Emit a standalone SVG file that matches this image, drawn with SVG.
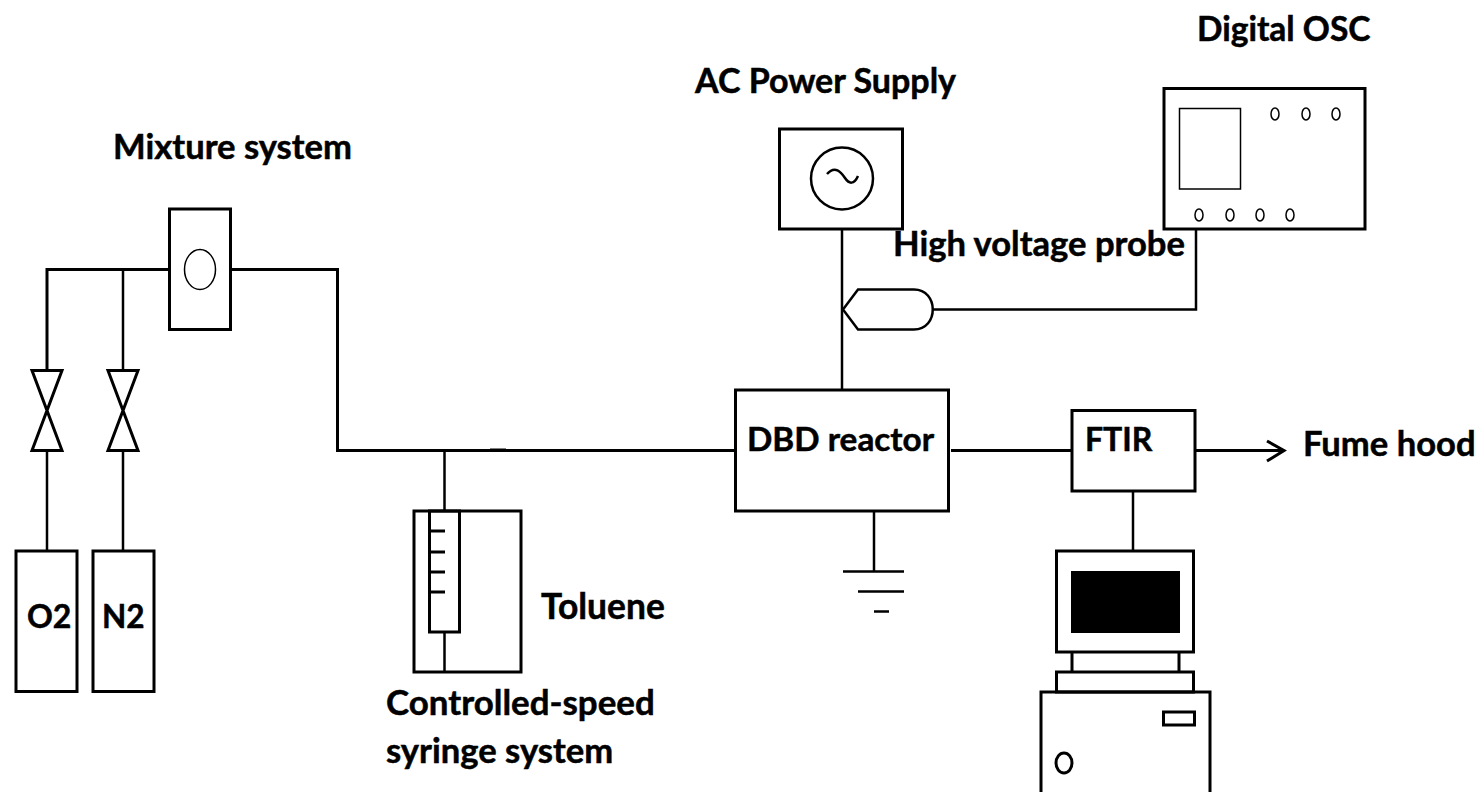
<svg xmlns="http://www.w3.org/2000/svg" width="1480" height="792" viewBox="0 0 1480 792">
<style>
.s{fill:none;stroke:#000;stroke-width:3}
.m{fill:none;stroke:#000;stroke-width:2.5}
.f{fill:none;stroke:#000;stroke-width:1.5}
text{font-family:"Lato","Open Sans","Liberation Sans",sans-serif;font-weight:700;font-size:34.6px;fill:#000;stroke:#000;stroke-width:.5}
</style>
<rect width="1480" height="792" fill="#fff"/>
<g id="connectors">
<path class="s" d="M169 269.5H47V370"/>
<path class="m" d="M123 269.5V370"/>
<path class="m" d="M47 451V551M123 451V551"/>
<path class="s" d="M231 269.5H337.500V450.500H735"/>
<path class="s" d="M490 450H506"/>
<path class="m" d="M444.500 451V511"/>
<path class="m" d="M842 229V390"/>
<path class="m" d="M932 309.500H1196V229"/>
<path class="s" d="M951 450.500H1072"/>
<path class="s" d="M1195 450.500H1284M1267 441L1284 450.500L1267 461" id="fume-arrow"/>
<path class="m" d="M1133 491V551"/>
<path class="m" d="M874 511V571"/>
</g>
<g id="mixture"><rect class="s" x="169.500" y="209" width="61" height="120.500"/><ellipse class="f" cx="200" cy="269.500" rx="15.500" ry="20"/><text x="113" y="159">Mixture system</text></g>
<g id="valve-o2"><path class="s" d="M32 370.500H62L32 450.500H62Z"/></g>
<g id="valve-n2"><path class="s" d="M108 370.500H138L108 450.500H138Z"/></g>
<g id="o2"><rect class="s" x="16" y="551" width="61" height="140.500"/><text x="27" y="628" style="font-size:32px">O2</text></g>
<g id="n2"><rect class="s" x="93" y="551" width="61" height="140.500"/><text x="102" y="628" style="font-size:31.500px">N2</text></g>
<g id="syringe"><rect class="s" x="414" y="511" width="107" height="161"/><rect class="s" x="429.500" y="511" width="30" height="121"/><path class="s" d="M429.500 531H445M429.500 552H445M429.500 572H445M429.500 592H445"/><path class="m" d="M444.500 632V672"/><text x="541" y="619" style="font-size:35.400px">Toluene</text><text x="386" y="715" style="font-size:34.900px">Controlled-speed</text><text x="386" y="763">syringe system</text></g>
<g id="ac-power"><rect class="s" x="779.500" y="129" width="123" height="100"/><circle class="m" cx="842" cy="178.500" r="31"/><path class="m" d="M827 174C835 165 841 172 845 178C849 184 854 185 858 176"/><text x="695" y="93" style="font-size:34px">AC Power Supply</text></g>
<g id="osc"><rect class="s" x="1164" y="88.500" width="201" height="140.500"/><rect class="f" x="1179.500" y="108.500" width="61" height="80.500"/><g class="f"><ellipse cx="1275" cy="114" rx="4" ry="6"/><ellipse cx="1306" cy="114" rx="4" ry="6"/><ellipse cx="1336" cy="114" rx="4" ry="6"/><ellipse cx="1199" cy="215" rx="4" ry="6"/><ellipse cx="1230" cy="215" rx="4" ry="6"/><ellipse cx="1260" cy="215" rx="4" ry="6"/><ellipse cx="1290" cy="215" rx="4" ry="6"/></g><text x="1197" y="41" style="font-size:33.500px">Digital OSC</text></g>
<g id="probe"><path class="m" d="M843 309.500L858 289.500H914C939 289.500 939 329.500 914 329.500H858Z"/><text x="893" y="256">High voltage probe</text></g>
<g id="dbd"><rect class="s" x="735.500" y="390" width="213" height="121"/><text x="747" y="451" style="font-size:33.300px">DBD reactor</text></g>
<g id="ground"><path class="m" d="M843 571.500H904M858 591.500H904M874 611.500H889"/></g>
<g id="ftir"><rect class="s" x="1072" y="410.500" width="123" height="80.500"/><text x="1085" y="451" style="font-size:32px">FTIR</text></g>
<text id="fume" x="1303" y="456">Fume hood</text>
<g id="computer"><rect class="s" x="1056.500" y="551" width="137" height="101"/><rect x="1071" y="571" width="109" height="62" fill="#000"/><path class="s" d="M1072 652V672M1179 652V672"/><rect class="s" x="1056.500" y="672" width="137" height="20"/><rect class="s" x="1041" y="692" width="169" height="110"/><rect class="s" x="1163.500" y="712" width="31" height="13"/><ellipse class="s" cx="1064" cy="763" rx="8" ry="10"/></g>
</svg>
